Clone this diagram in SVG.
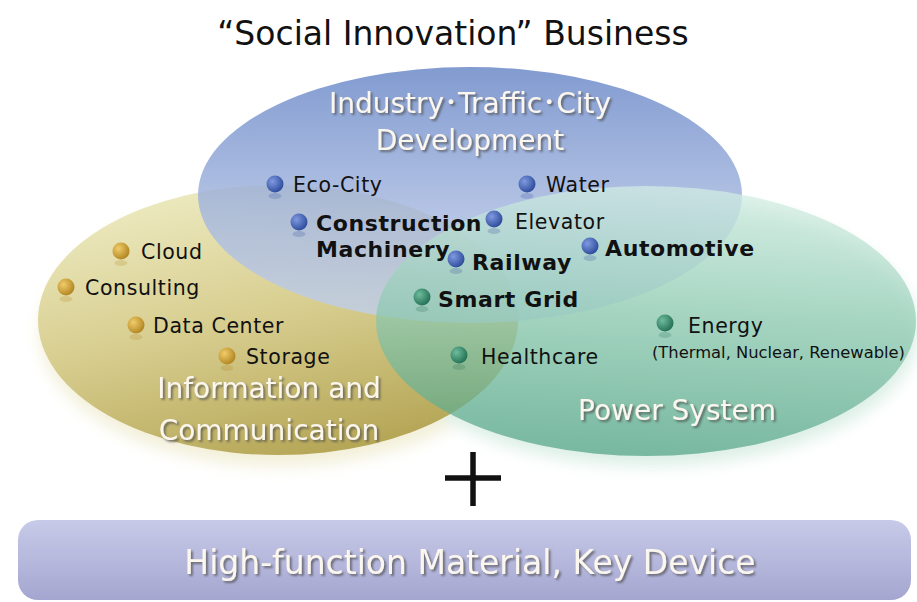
<svg xmlns="http://www.w3.org/2000/svg" width="917" height="602" viewBox="0 0 917 602">
  <defs>
    <linearGradient id="gBlue" x1="0" y1="0" x2="0" y2="1">
      <stop offset="0" stop-color="#6685c6"/>
      <stop offset="0.55" stop-color="#a2b5de"/>
      <stop offset="1" stop-color="#c4d2ec"/>
    </linearGradient>
    <linearGradient id="gYellow" x1="0.2" y1="0" x2="0.6" y2="1">
      <stop offset="0" stop-color="#eeecc4"/>
      <stop offset="0.5" stop-color="#d8ce90"/>
      <stop offset="1" stop-color="#b5a656"/>
    </linearGradient>
    <linearGradient id="gGreen" x1="0.5" y1="0" x2="0.4" y2="1">
      <stop offset="0" stop-color="#d4eee4"/>
      <stop offset="0.45" stop-color="#92ccb4"/>
      <stop offset="1" stop-color="#50a284"/>
    </linearGradient>
    <linearGradient id="gBar" x1="0" y1="0" x2="0" y2="1">
      <stop offset="0" stop-color="#c8cae9"/>
      <stop offset="1" stop-color="#a4a6d0"/>
    </linearGradient>
    <radialGradient id="dBlue" cx="0.35" cy="0.35" r="0.7">
      <stop offset="0" stop-color="#7f9ae0"/>
      <stop offset="1" stop-color="#2c4a9a"/>
    </radialGradient>
    <radialGradient id="dGold" cx="0.35" cy="0.35" r="0.7">
      <stop offset="0" stop-color="#f0cc6a"/>
      <stop offset="1" stop-color="#b08420"/>
    </radialGradient>
    <radialGradient id="dGreen" cx="0.35" cy="0.35" r="0.7">
      <stop offset="0" stop-color="#6ebc9c"/>
      <stop offset="1" stop-color="#226e54"/>
    </radialGradient>
    <filter id="soft" x="-20%" y="-20%" width="140%" height="140%">
      <feGaussianBlur stdDeviation="8"/>
    </filter>
    <filter id="ts" x="-10%" y="-30%" width="120%" height="160%">
      <feDropShadow dx="2" dy="2" stdDeviation="1.2" flood-color="#4a4a4a" flood-opacity="0.7"/>
    </filter>
    <symbol id="dotB" overflow="visible"><ellipse cx="0" cy="12" rx="6.5" ry="3" fill="#2c4a9a" opacity="0.22"/><circle r="8.5" fill="url(#dBlue)"/></symbol>
    <symbol id="dotY" overflow="visible"><ellipse cx="0" cy="12" rx="6.5" ry="3" fill="#b08420" opacity="0.22"/><circle r="8.5" fill="url(#dGold)"/></symbol>
    <symbol id="dotG" overflow="visible"><ellipse cx="0" cy="12" rx="6.5" ry="3" fill="#226e54" opacity="0.22"/><circle r="8.5" fill="url(#dGreen)"/></symbol>
  </defs>
  <style>
    text { font-family: "DejaVu Sans", "Noto Sans CJK JP", sans-serif; }
    .item { font-size: 20.5px; fill: #111; letter-spacing: 0.6px; }
    .note { font-size: 15.5px; fill: #111; }
    .bold { font-size: 22px; font-weight: bold; fill: #111; letter-spacing: 0.6px; }
    .area { font-size: 28px; fill: #fbf6ee; filter: url(#ts); text-anchor: middle; }
    .title { font-size: 33px; fill: #111; text-anchor: middle; }
  </style>

  <rect width="917" height="602" fill="#ffffff"/>

  <text class="title" x="453" y="45">“Social Innovation” Business</text>

  <!-- soft halo under the three areas -->
  <g filter="url(#soft)" opacity="0.55">
    <ellipse cx="280" cy="332" rx="240" ry="134" fill="#e8e2b8"/>
    <ellipse cx="650" cy="332" rx="268" ry="134" fill="#bfe2d2"/>
  </g>

  <g id="area-ict">
    <ellipse cx="278" cy="320" rx="240" ry="135" fill="url(#gYellow)"/>
  </g>
  <g id="area-industry">
    <ellipse cx="470" cy="195" rx="272" ry="128" fill="url(#gBlue)" opacity="0.82"/>
  </g>
  <g id="area-power">
    <ellipse cx="646" cy="321" rx="270" ry="135" fill="url(#gGreen)" opacity="0.72"/>
  </g>

  <g id="area-labels">
    <text class="area" x="470" y="113">Industry･Traffic･City</text>
    <text class="area" x="470" y="150">Development</text>
    <text class="area" x="269" y="398">Information and</text>
    <text class="area" x="269" y="440">Communication</text>
    <text class="area" x="677" y="420">Power System</text>
  </g>

  <g id="items-industry">
    <use href="#dotB" x="275" y="184"/><text class="item" x="293" y="192">Eco-City</text>
    <use href="#dotB" x="527" y="184"/><text class="item" x="546" y="192">Water</text>
    <use href="#dotB" x="299" y="222"/><text class="bold" x="316" y="231">Construction</text>
    <text class="bold" x="316" y="257">Machinery</text>
    <use href="#dotB" x="494" y="219"/><text class="item" x="515" y="229">Elevator</text>
    <use href="#dotB" x="456" y="259"/><text class="bold" x="472" y="270">Railway</text>
    <use href="#dotB" x="590" y="246"/><text class="bold" x="605" y="256">Automotive</text>
  </g>

  <g id="items-ict">
    <use href="#dotY" x="121" y="251"/><text class="item" x="141" y="259">Cloud</text>
    <use href="#dotY" x="66" y="287"/><text class="item" x="85" y="295">Consulting</text>
    <use href="#dotY" x="136" y="325"/><text class="item" x="153" y="333">Data Center</text>
    <use href="#dotY" x="227" y="356"/><text class="item" x="246" y="364">Storage</text>
  </g>

  <g id="items-power">
    <use href="#dotG" x="422" y="297"/><text class="bold" x="438" y="307">Smart Grid</text>
    <use href="#dotG" x="459" y="355"/><text class="item" x="481" y="364">Healthcare</text>
    <use href="#dotG" x="665" y="323"/><text class="item" x="688" y="333">Energy</text>
    <text class="note" x="652" y="358" textLength="253" lengthAdjust="spacingAndGlyphs">(Thermal, Nuclear, Renewable)</text>
  </g>

  <g id="plus">
    <line x1="445" y1="478" x2="501" y2="478" stroke="#111" stroke-width="5.5"/>
    <line x1="473" y1="452" x2="473" y2="506" stroke="#111" stroke-width="5.5"/>
  </g>

  <g id="key-device">
    <rect x="18" y="520" width="893" height="80" rx="20" fill="url(#gBar)"/>
    <text class="area" x="470" y="574" style="font-size:33px">High-function Material, Key Device</text>
  </g>
</svg>
